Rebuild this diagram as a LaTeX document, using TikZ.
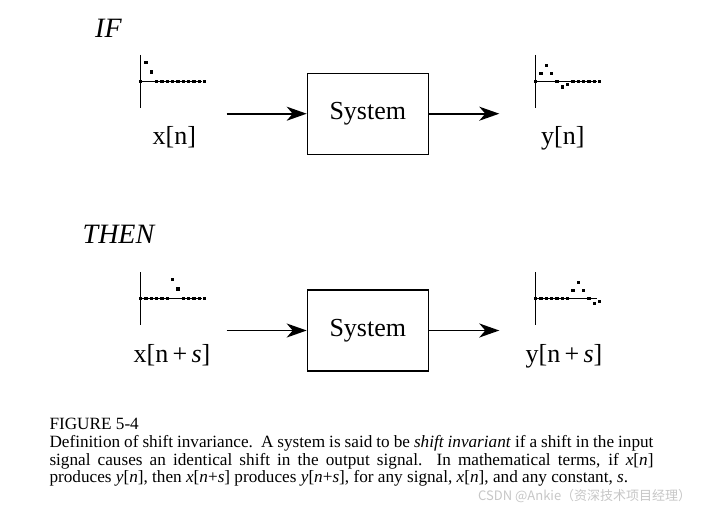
\documentclass[tikz,border=0pt]{standalone}
\usepackage{fontspec}
\setmainfont{Liberation Serif}
\newfontfamily\cjk{Noto Sans CJK SC}
\usetikzlibrary{arrows.meta}
\tikzset{
  sysbox/.style={draw, line width=1.2pt, minimum width=121pt, minimum height=81pt, inner sep=0pt, font=\fontsize{26}{30}\selectfont},
  siglabel/.style={anchor=base, inner sep=0pt, font=\fontsize{26}{30}\selectfont},
  heading/.style={anchor=base west, inner sep=0pt, font=\fontsize{28}{32}\selectfont\itshape},
  flow/.style={line width=1.9pt, -{Stealth[length=20pt,width=14pt,inset=6pt]}},
  axisline/.style={line width=1pt},
  captionline/.style={anchor=base west, inner sep=0pt, font=\fontsize{17.2}{20}\selectfont},
}
\newcommand{\sigplot}[3]{% origin x, origin y, list k/v
  \draw[axisline] (#1,#2-26.7) -- (#1,#2+26.3);
  \draw[line width=0.8pt] (#1,#2) -- (#1+61.5,#2);
  \foreach \k/\v in {#3} {
    \fill ({#1+5.33*\k-1.7},{#2-\v-1.7}) rectangle ++(3.4,3.4);
  }
}
\begin{document}
\begin{tikzpicture}[x=1pt,y=-1pt]
\useasboundingbox (0,0) rectangle (706,508);
\fill[white] (0,0) rectangle (706,508);

% headings
\node[heading] (if) at (95,37.7) {IF};
\node[heading] (then) at (82.5,243.3) {THEN};

% row 1
\node[sysbox] (box1) at (367.8,113.7) {System};
\coordinate (in1) at (226.7,113.7);
\coordinate (out1) at (499.3,113.7);
\draw[flow] (in1) -- (box1.west);
\draw[flow] (box1.east) -- (out1);
\node[siglabel] (xn) at (174.3,144.5) {x[n]};
\node[siglabel] (yn) at (562.8,144.5) {y[n]};
\sigplot{140.7}{81.7}{0/0,1/19,2/9.7,3/0,4/0,5/0,6/0,7/0,8/0,9/0,10/0,11/0,12/0}
\sigplot{535.7}{81.7}{0/0,1/8.4,2/16.4,3/8.4,4/0,5/-5.3,6/-2.7,7/0,8/0,9/0,10/0,11/0,12/0}

% row 2
\node[sysbox] (box2) at (367.8,330.5) {System};
\coordinate (in2) at (226.7,330.5);
\coordinate (out2) at (499.3,330.5);
\draw[flow] (in2) -- (box2.west);
\draw[flow] (box2.east) -- (out2);
\node[siglabel] (xns) at (172,362) {x[n\,+\,\textit{s}]};
\node[siglabel] (yns) at (564,362) {y[n\,+\,\textit{s}]};
\sigplot{140.7}{298.7}{0/0,1/0,2/0,3/0,4/0,5/0,6/19,7/9.7,8/0,9/0,10/0,11/0,12/0}
\sigplot{535.7}{298.7}{0/0,1/0,2/0,3/0,4/0,5/0,6/0,7/8.4,8/16.4,9/8.4,10/0,11/-5,12/-3}

% caption
\node[captionline] (c0) at (49.3,429.3) {FIGURE 5-4};
\node[captionline] (c1) at (49.3,447.3) {\makebox[604pt][s]{Definition of shift invariance.\ \ A system is said to be \textit{shift invariant} if a shift in the input}};
\node[captionline] (c2) at (49.3,465) {\makebox[604pt][s]{signal causes an identical shift in the output signal.\ \ In mathematical terms, if \textit{x}[\textit{n}]}};
\node[captionline] (c3) at (49.3,482.3) {produces \textit{y}[\textit{n}], then \textit{x}[\textit{n}+\textit{s}] produces \textit{y}[\textit{n}+\textit{s}], for any signal, \textit{x}[\textit{n}], and any constant, \textit{s}.};

% watermark
\node[anchor=west, inner sep=0pt, text=black!22, font=\cjk\fontsize{13}{15}\selectfont] (wm) at (478,495.7) {CSDN @Ankie（资深技术项目经理）};
\end{tikzpicture}
\end{document}
